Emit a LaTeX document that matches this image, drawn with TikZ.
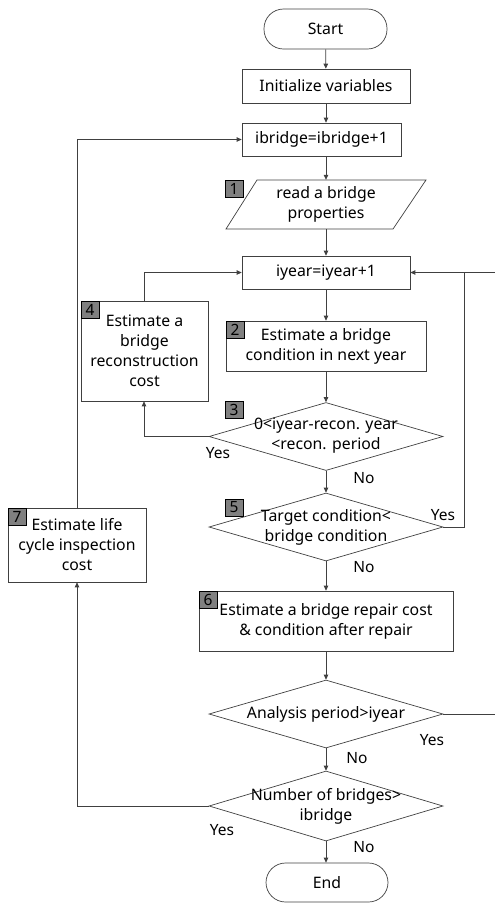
\documentclass[tikz,border=0pt]{standalone}
\usepackage{fontspec}
\setmainfont{Noto Sans}
\usetikzlibrary{shapes.geometric,arrows.meta}
\begin{document}
\begin{tikzpicture}[x=1pt,y=-1pt,
  every node/.style={font=\fontsize{15.8}{20}\selectfont},
  box/.style={draw=black!75,line width=0.7pt,align=center,inner sep=0pt},
  term/.style={box,rounded corners=19.5pt},
  dia/.style={draw=black!75,line width=0.7pt,diamond,inner sep=0pt,minimum width=234pt,minimum height=68pt},
  dtext/.style={align=center,inner sep=0pt},
  num/.style={draw=black,fill=black!50,line width=0.5pt,minimum width=18pt,minimum height=17pt,inner sep=0pt,font=\fontsize{15.5}{15.5}\selectfont},
  lbl/.style={inner sep=0pt,font=\fontsize{15.5}{15.5}\selectfont},
  conn/.style={draw=black!75,line width=0.8pt,-{Triangle[length=5pt,width=4.5pt]}},
  line/.style={draw=black!75,line width=0.8pt}]
\useasboundingbox (0,0) rectangle (495,903);
% nodes
\node[term,minimum width=123pt,minimum height=40pt] (start) at (325.5,29) {Start};
\node[box,minimum width=168pt,minimum height=34pt] (init) at (326,86) {Initialize variables};
\node[box,minimum width=159pt,minimum height=33pt] (ibr) at (321.5,139.5) {ibridge=ibridge+1};
\draw[draw=black!75,line width=0.7pt] (226,229) -- (257,180) -- (426,180) -- (393,229) -- cycle;
\node[dtext,minimum width=169pt,minimum height=49pt] (read) at (326,204.5) {read a bridge\\properties};
\node[box,minimum width=168pt,minimum height=33pt] (iyear) at (326,272.5) {iyear=iyear+1};
\node[box,minimum width=200pt,minimum height=50pt] (est2) at (326,346) {Estimate a bridge\\condition in next year};
\node[box,minimum width=127pt,minimum height=100pt] (est4) at (144.5,351) {Estimate a\\bridge\\reconstruction\\cost};
\node[dia] (d3) at (326,436.5) {};
\node[dtext] (d3t) at (326,436) {0<iyear-recon. year\\<recon. period};
\node[dia] (d5) at (326,527) {};
\node[dtext] (d5t) at (326,527) {Target condition<\\bridge condition};
\node[box,minimum width=254pt,minimum height=60pt] (est6) at (326,621) {Estimate a bridge repair cost\\\& condition after repair};
\node[box,minimum width=138pt,minimum height=74pt] (est7) at (77,545) {Estimate life\\cycle inspection\\cost};
\node[dia] (dana) at (326,714) {};
\node[dtext] (danat) at (326,714) {Analysis period>iyear};
\node[dia,minimum height=70pt] (dnum) at (326,806) {};
\node[dtext] (dnumt) at (326,806) {Number of bridges>\\ibridge};
\node[term,minimum width=122pt,minimum height=39pt] (end) at (327,882.5) {End};
% number tags
\node[num] (n1) at (234,188.5) {1};
\node[num] (n2) at (235,330) {2};
\node[num] (n3) at (234,409.5) {3};
\node[num] (n4) at (90,310) {4};
\node[num] (n5) at (234,507.5) {5};
\node[num] (n6) at (208,600) {6};
\node[num] (n7) at (17,516.5) {7};
% yes/no labels
\node[lbl] (y3) at (218,453) {Yes};
\node[lbl] (no3) at (364,478) {No};
\node[lbl] (y5) at (443,515) {Yes};
\node[lbl] (no5) at (364,567) {No};
\node[lbl] (yana) at (432,740) {Yes};
\node[lbl] (noana) at (357,758) {No};
\node[lbl] (ynum) at (222,830) {Yes};
\node[lbl] (nonum) at (364,847) {No};
% coordinates
\coordinate (r5) at (464,527);
\coordinate (rtop) at (464,272.5);
\coordinate (ea) at (500,714);
\coordinate (eb) at (500,272.5);
\coordinate (l4) at (144,272.5);
\coordinate (l7) at (77,139.5);
% connectors
\draw[conn] (start) -- (init);
\draw[conn] (init) -- (ibr.north -| init);
\draw[conn] (ibr.south -| init) -- (read.north);
\draw[conn] (read.south) -- (iyear);
\draw[conn] (iyear) -- (est2);
\draw[conn] (est2) -- (d3.north);
\draw[conn] (d3.south) -- (d5.north);
\draw[conn] (d5.south) -- (est6);
\draw[conn] (est6) -- (dana.north);
\draw[conn] (dana.south) -- (dnum.north);
\draw[conn] (dnum.south) -- (end.north -| dnum);
\draw[conn] (d3.west) -| (est4.south -| l4);
\draw[conn] (est4.north -| l4) -- (l4) -- (iyear.west);
\draw[line] (d5.east) -- (r5) -- (rtop);
\draw[conn] (ea) -- (eb) -- (iyear.east);
\draw[line] (dana.east) -- (ea);
\draw[conn] (dnum.west) -| (est7.south);
\draw[conn] (est7.north) -- (l7) -- (ibr.west);
\end{tikzpicture}
\end{document}
